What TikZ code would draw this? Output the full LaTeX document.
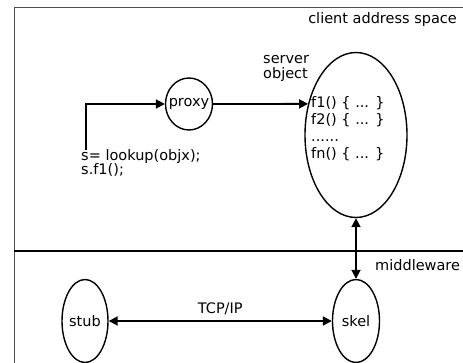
\documentclass[tikz,border=0pt]{standalone}
\usepackage{fontspec}
\setmainfont{DejaVu Sans}
\usetikzlibrary{shapes.geometric,arrows.meta}
\begin{document}
\begin{tikzpicture}[x=1pt,y=-1pt,
  obj/.style={draw,ellipse,line width=1.4pt,inner sep=0pt},
  conn/.style={line width=1.8pt,-{Triangle[length=9pt,width=9pt]}},
  biconn/.style={line width=1.8pt,{Triangle[length=9pt,width=9pt]}-{Triangle[length=9pt,width=9pt]}},
  lbl/.style={font=\fontsize{14.5}{16}\selectfont,inner sep=0pt}]
\useasboundingbox (0,0) rectangle (463,363);
% frame of the client address space and the middleware boundary
\draw[line width=1pt,black!70] (14,363) -- (14,8) -- (463,8);
\draw[line width=1.6pt] (14,251) -- (463,251);
\node[lbl,anchor=east] (cas) at (457,20) {client address space};
\node[lbl,anchor=west] (mw) at (375,265) {middleware};
% objects: outlines first, names set on top
\node[obj,minimum width=102,minimum height=165] (srv) at (356,135) {};
\node[obj,minimum width=47,minimum height=52] (proxy) at (189,104) {};
\node[obj,minimum width=47,minimum height=83] (skel) at (356,321) {};
\node[obj,minimum width=46,minimum height=83] (stub) at (85,321) {};
\node[lbl] (proxy-t) at (proxy) {proxy};
\node[lbl] (skel-t) at (skel) {skel};
\node[lbl] (stub-t) at (stub) {stub};
\node[lbl,align=left,anchor=north west,font=\fontsize{14.5}{15.5}\selectfont] (so) at (263,55) {server\\object};
\node[lbl,align=left,anchor=north west,font=\fontsize{14.5}{17}\selectfont] (code) at (311,96)
  {f1() \{ ... \}\\f2() \{ ... \}\\......\\fn() \{ ... \}};
\node[lbl,align=left,anchor=north west,font=\fontsize{14.5}{14.5}\selectfont] (call) at (81,149)
  {s= lookup(objx);\\s.f1();};
% connectors
\coordinate (start) at (86,150);
\draw[conn] (start) |- (proxy.west);
\draw[conn] (proxy.east) -- (srv.147);
\draw[biconn] (srv.south) -- (skel.north);
\draw[biconn] (stub.east) -- node[lbl,above=5pt] {TCP/IP} (skel.west);
\end{tikzpicture}
\end{document}
